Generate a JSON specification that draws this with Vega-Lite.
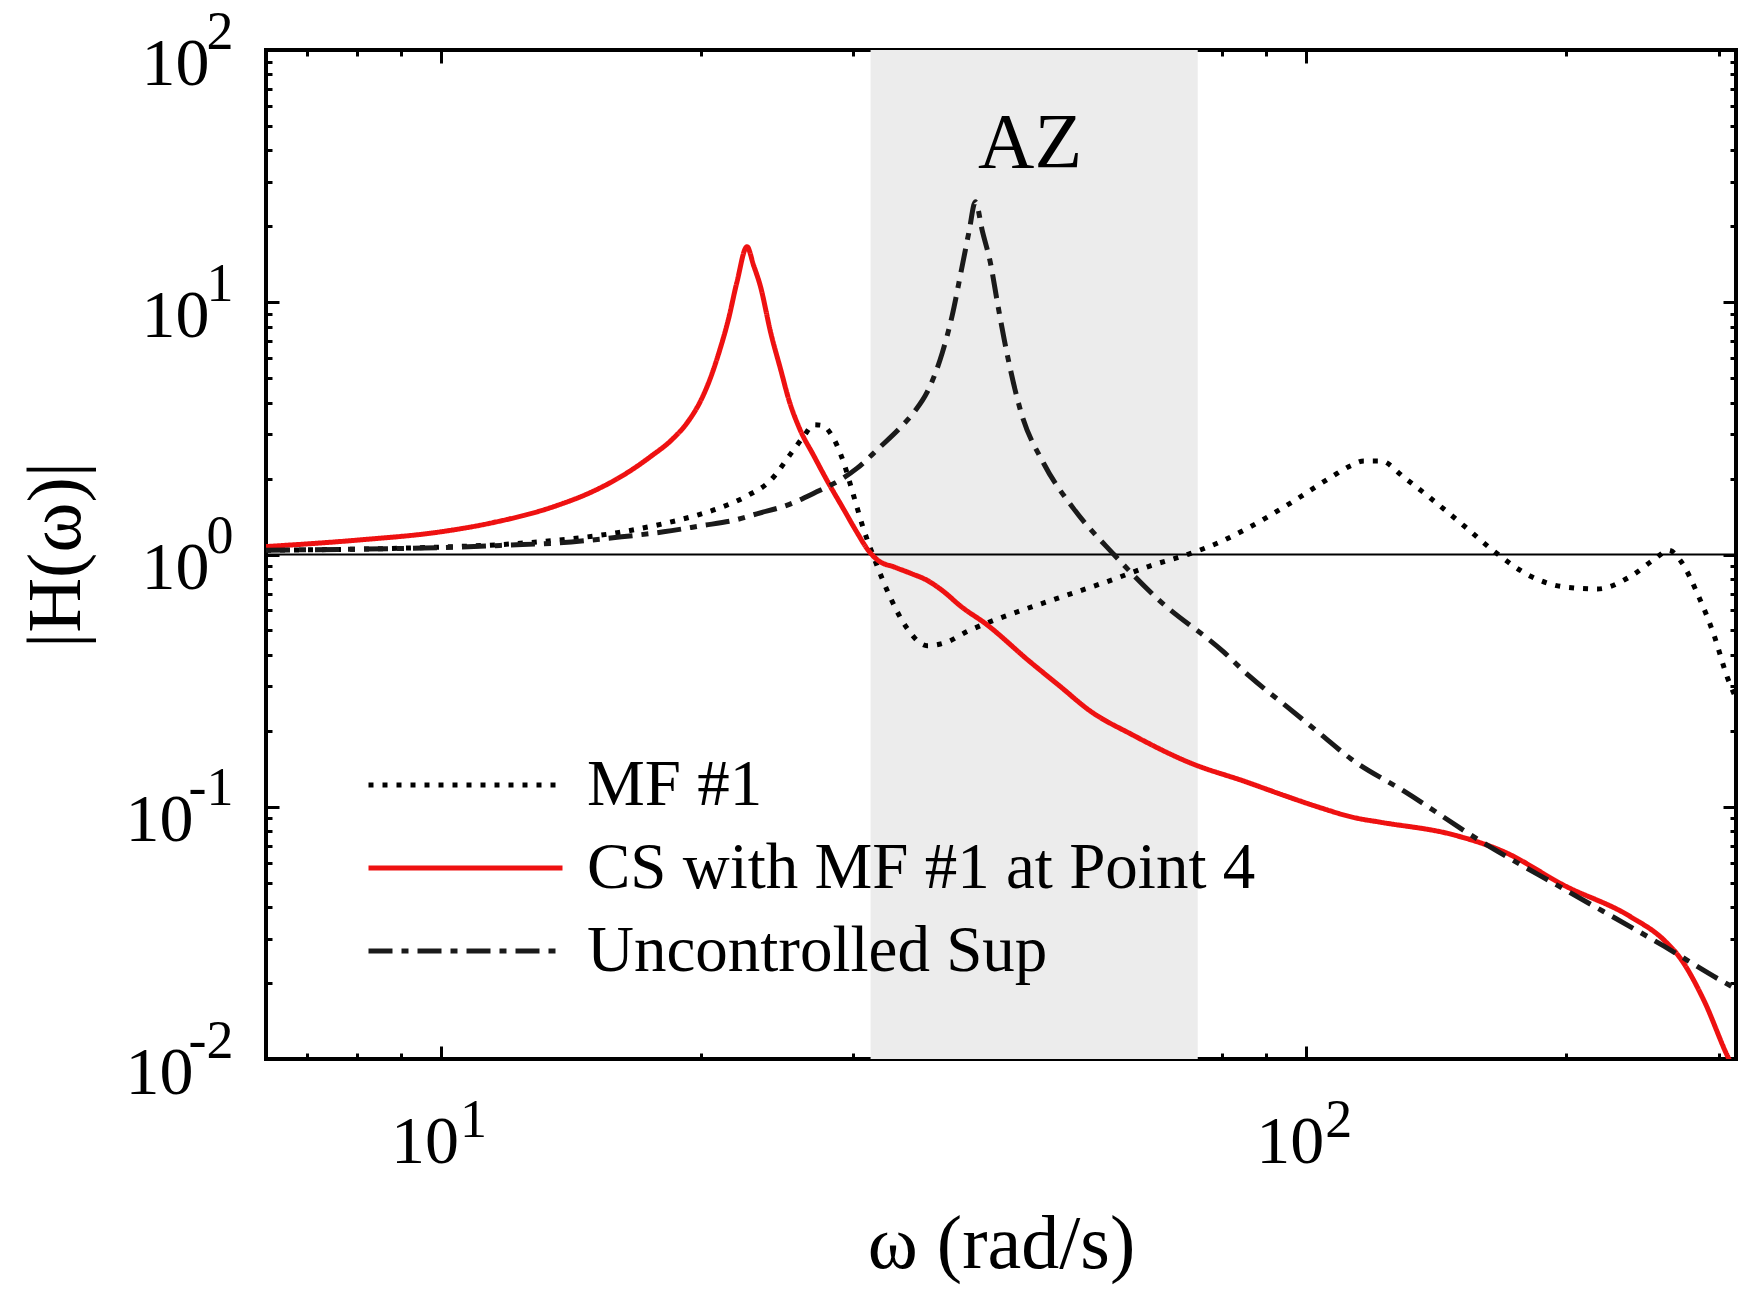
{
  "$schema": "https://vega.github.io/schema/vega-lite/v6.json",
  "width": 1470,
  "height": 1009,
  "autosize": {"type": "none"},
  "padding": {"left": 266, "top": 50, "right": 3, "bottom": 237},
  "background": "#ffffff",
  "config": {
    "view": {"stroke": "#000000", "strokeWidth": 4},
    "font": "Liberation Serif",
    "axis": {
      "domain": false,
      "grid": false,
      "tickColor": "#000000",
      "tickWidth": 3,
      "labelColor": "#000000",
      "titleColor": "#000000",
      "labelFont": "Liberation Serif",
      "titleFont": "Liberation Serif",
      "labelFontSize": 68,
      "titleFontSize": 76,
      "titleFontWeight": "normal",
      "labelFlush": false,
      "labelOverlap": false,
      "labelBound": false
    }
  },
  "datasets": {
    "curves": [
      {"w": 6.2832, "H": 1.04, "s": "MF #1"},
      {"w": 8, "H": 1.05, "s": "MF #1"},
      {"w": 10, "H": 1.07, "s": "MF #1"},
      {"w": 12, "H": 1.1, "s": "MF #1"},
      {"w": 14, "H": 1.15, "s": "MF #1"},
      {"w": 16, "H": 1.22, "s": "MF #1"},
      {"w": 18, "H": 1.32, "s": "MF #1"},
      {"w": 19.9, "H": 1.44, "s": "MF #1"},
      {"w": 20.9, "H": 1.52, "s": "MF #1"},
      {"w": 22.7, "H": 1.72, "s": "MF #1"},
      {"w": 24, "H": 1.95, "s": "MF #1"},
      {"w": 25.5, "H": 2.56, "s": "MF #1"},
      {"w": 26.3, "H": 2.95, "s": "MF #1"},
      {"w": 27.0, "H": 3.27, "s": "MF #1"},
      {"w": 27.6, "H": 3.25, "s": "MF #1"},
      {"w": 28.3, "H": 2.98, "s": "MF #1"},
      {"w": 29.2, "H": 2.34, "s": "MF #1"},
      {"w": 30.0, "H": 1.72, "s": "MF #1"},
      {"w": 30.8, "H": 1.27, "s": "MF #1"},
      {"w": 31.8, "H": 0.94, "s": "MF #1"},
      {"w": 33.0, "H": 0.69, "s": "MF #1"},
      {"w": 34.6, "H": 0.51, "s": "MF #1"},
      {"w": 36.5, "H": 0.435, "s": "MF #1"},
      {"w": 38.5, "H": 0.45, "s": "MF #1"},
      {"w": 40.6, "H": 0.495, "s": "MF #1"},
      {"w": 42.5, "H": 0.53, "s": "MF #1"},
      {"w": 46.9, "H": 0.6, "s": "MF #1"},
      {"w": 51.6, "H": 0.67, "s": "MF #1"},
      {"w": 59.5, "H": 0.79, "s": "MF #1"},
      {"w": 66, "H": 0.9, "s": "MF #1"},
      {"w": 73.6, "H": 1.01, "s": "MF #1"},
      {"w": 80, "H": 1.13, "s": "MF #1"},
      {"w": 85.6, "H": 1.27, "s": "MF #1"},
      {"w": 96.0, "H": 1.6, "s": "MF #1"},
      {"w": 106.8, "H": 2.02, "s": "MF #1"},
      {"w": 112.7, "H": 2.25, "s": "MF #1"},
      {"w": 116.7, "H": 2.35, "s": "MF #1"},
      {"w": 122, "H": 2.35, "s": "MF #1"},
      {"w": 129.9, "H": 2.02, "s": "MF #1"},
      {"w": 139.4, "H": 1.67, "s": "MF #1"},
      {"w": 152.3, "H": 1.3, "s": "MF #1"},
      {"w": 165, "H": 1.03, "s": "MF #1"},
      {"w": 181.9, "H": 0.82, "s": "MF #1"},
      {"w": 198.8, "H": 0.744, "s": "MF #1"},
      {"w": 217.3, "H": 0.73, "s": "MF #1"},
      {"w": 237.4, "H": 0.82, "s": "MF #1"},
      {"w": 252.6, "H": 0.955, "s": "MF #1"},
      {"w": 262.8, "H": 1.04, "s": "MF #1"},
      {"w": 271.3, "H": 0.94, "s": "MF #1"},
      {"w": 283.5, "H": 0.70, "s": "MF #1"},
      {"w": 296.3, "H": 0.479, "s": "MF #1"},
      {"w": 307, "H": 0.326, "s": "MF #1"},
      {"w": 314, "H": 0.27, "s": "MF #1"},

      {"w": 6.2832, "H": 1.075, "s": "CS with MF #1 at Point 4"},
      {"w": 8, "H": 1.14, "s": "CS with MF #1 at Point 4"},
      {"w": 10, "H": 1.23, "s": "CS with MF #1 at Point 4"},
      {"w": 11.4, "H": 1.33, "s": "CS with MF #1 at Point 4"},
      {"w": 13.6, "H": 1.56, "s": "CS with MF #1 at Point 4"},
      {"w": 15, "H": 1.78, "s": "CS with MF #1 at Point 4"},
      {"w": 16.4, "H": 2.1, "s": "CS with MF #1 at Point 4"},
      {"w": 17.5, "H": 2.45, "s": "CS with MF #1 at Point 4"},
      {"w": 18.5, "H": 2.85, "s": "CS with MF #1 at Point 4"},
      {"w": 19.3, "H": 3.35, "s": "CS with MF #1 at Point 4"},
      {"w": 20, "H": 4.1, "s": "CS with MF #1 at Point 4"},
      {"w": 20.5, "H": 5.0, "s": "CS with MF #1 at Point 4"},
      {"w": 21, "H": 6.4, "s": "CS with MF #1 at Point 4"},
      {"w": 21.5, "H": 8.5, "s": "CS with MF #1 at Point 4"},
      {"w": 22.0, "H": 12, "s": "CS with MF #1 at Point 4"},
      {"w": 22.6, "H": 16.6, "s": "CS with MF #1 at Point 4"},
      {"w": 23.0, "H": 14.0, "s": "CS with MF #1 at Point 4"},
      {"w": 23.4, "H": 11.7, "s": "CS with MF #1 at Point 4"},
      {"w": 24.1, "H": 7.45, "s": "CS with MF #1 at Point 4"},
      {"w": 24.7, "H": 5.46, "s": "CS with MF #1 at Point 4"},
      {"w": 25.3, "H": 4.04, "s": "CS with MF #1 at Point 4"},
      {"w": 26.0, "H": 3.15, "s": "CS with MF #1 at Point 4"},
      {"w": 27.0, "H": 2.46, "s": "CS with MF #1 at Point 4"},
      {"w": 28.0, "H": 1.95, "s": "CS with MF #1 at Point 4"},
      {"w": 29.2, "H": 1.52, "s": "CS with MF #1 at Point 4"},
      {"w": 30.3, "H": 1.22, "s": "CS with MF #1 at Point 4"},
      {"w": 31.2, "H": 1.04, "s": "CS with MF #1 at Point 4"},
      {"w": 32.0, "H": 0.95, "s": "CS with MF #1 at Point 4"},
      {"w": 33.5, "H": 0.89, "s": "CS with MF #1 at Point 4"},
      {"w": 35, "H": 0.84, "s": "CS with MF #1 at Point 4"},
      {"w": 36.5, "H": 0.79, "s": "CS with MF #1 at Point 4"},
      {"w": 38, "H": 0.72, "s": "CS with MF #1 at Point 4"},
      {"w": 40, "H": 0.62, "s": "CS with MF #1 at Point 4"},
      {"w": 42.7, "H": 0.53, "s": "CS with MF #1 at Point 4"},
      {"w": 47.8, "H": 0.38, "s": "CS with MF #1 at Point 4"},
      {"w": 52, "H": 0.3, "s": "CS with MF #1 at Point 4"},
      {"w": 56.3, "H": 0.24, "s": "CS with MF #1 at Point 4"},
      {"w": 63, "H": 0.193, "s": "CS with MF #1 at Point 4"},
      {"w": 73.6, "H": 0.149, "s": "CS with MF #1 at Point 4"},
      {"w": 85, "H": 0.126, "s": "CS with MF #1 at Point 4"},
      {"w": 95, "H": 0.11, "s": "CS with MF #1 at Point 4"},
      {"w": 102.2, "H": 0.101, "s": "CS with MF #1 at Point 4"},
      {"w": 114.7, "H": 0.09, "s": "CS with MF #1 at Point 4"},
      {"w": 122, "H": 0.0868, "s": "CS with MF #1 at Point 4"},
      {"w": 148.3, "H": 0.0773, "s": "CS with MF #1 at Point 4"},
      {"w": 169.4, "H": 0.0663, "s": "CS with MF #1 at Point 4"},
      {"w": 198.8, "H": 0.0488, "s": "CS with MF #1 at Point 4"},
      {"w": 237.4, "H": 0.0366, "s": "CS with MF #1 at Point 4"},
      {"w": 259.4, "H": 0.0296, "s": "CS with MF #1 at Point 4"},
      {"w": 271.3, "H": 0.0249, "s": "CS with MF #1 at Point 4"},
      {"w": 288.6, "H": 0.017, "s": "CS with MF #1 at Point 4"},
      {"w": 307, "H": 0.0103, "s": "CS with MF #1 at Point 4"},
      {"w": 314, "H": 0.0088, "s": "CS with MF #1 at Point 4"},

      {"w": 6.2832, "H": 1.04, "s": "Uncontrolled Sup"},
      {"w": 8, "H": 1.05, "s": "Uncontrolled Sup"},
      {"w": 9.55, "H": 1.06, "s": "Uncontrolled Sup"},
      {"w": 12, "H": 1.09, "s": "Uncontrolled Sup"},
      {"w": 13.6, "H": 1.11, "s": "Uncontrolled Sup"},
      {"w": 16, "H": 1.17, "s": "Uncontrolled Sup"},
      {"w": 18.1, "H": 1.23, "s": "Uncontrolled Sup"},
      {"w": 20, "H": 1.3, "s": "Uncontrolled Sup"},
      {"w": 21.9, "H": 1.37, "s": "Uncontrolled Sup"},
      {"w": 23.2, "H": 1.45, "s": "Uncontrolled Sup"},
      {"w": 25.3, "H": 1.58, "s": "Uncontrolled Sup"},
      {"w": 27, "H": 1.75, "s": "Uncontrolled Sup"},
      {"w": 29.2, "H": 2.01, "s": "Uncontrolled Sup"},
      {"w": 30.3, "H": 2.2, "s": "Uncontrolled Sup"},
      {"w": 32.1, "H": 2.64, "s": "Uncontrolled Sup"},
      {"w": 34, "H": 3.19, "s": "Uncontrolled Sup"},
      {"w": 35.3, "H": 3.69, "s": "Uncontrolled Sup"},
      {"w": 36.5, "H": 4.4, "s": "Uncontrolled Sup"},
      {"w": 38.0, "H": 6.3, "s": "Uncontrolled Sup"},
      {"w": 39.0, "H": 8.8, "s": "Uncontrolled Sup"},
      {"w": 40.0, "H": 13.5, "s": "Uncontrolled Sup"},
      {"w": 40.8, "H": 19, "s": "Uncontrolled Sup"},
      {"w": 41.5, "H": 25, "s": "Uncontrolled Sup"},
      {"w": 42.3, "H": 19, "s": "Uncontrolled Sup"},
      {"w": 43.2, "H": 14.3, "s": "Uncontrolled Sup"},
      {"w": 44.0, "H": 10, "s": "Uncontrolled Sup"},
      {"w": 44.8, "H": 7.15, "s": "Uncontrolled Sup"},
      {"w": 46.8, "H": 3.72, "s": "Uncontrolled Sup"},
      {"w": 49.8, "H": 2.29, "s": "Uncontrolled Sup"},
      {"w": 53.9, "H": 1.52, "s": "Uncontrolled Sup"},
      {"w": 60, "H": 1.0, "s": "Uncontrolled Sup"},
      {"w": 67.3, "H": 0.67, "s": "Uncontrolled Sup"},
      {"w": 80.4, "H": 0.41, "s": "Uncontrolled Sup"},
      {"w": 86, "H": 0.33, "s": "Uncontrolled Sup"},
      {"w": 95, "H": 0.25, "s": "Uncontrolled Sup"},
      {"w": 104, "H": 0.194, "s": "Uncontrolled Sup"},
      {"w": 112.7, "H": 0.155, "s": "Uncontrolled Sup"},
      {"w": 130, "H": 0.115, "s": "Uncontrolled Sup"},
      {"w": 159.3, "H": 0.073, "s": "Uncontrolled Sup"},
      {"w": 200, "H": 0.0466, "s": "Uncontrolled Sup"},
      {"w": 259.4, "H": 0.028, "s": "Uncontrolled Sup"},
      {"w": 304, "H": 0.0202, "s": "Uncontrolled Sup"},
      {"w": 314, "H": 0.019, "s": "Uncontrolled Sup"}
    ]
  },
  "layer": [
    {
      "data": {"values": [{"lo": 31.4, "hi": 75}]},
      "mark": {"type": "rect", "color": "#ececec"},
      "encoding": {
        "x": {
          "field": "lo", "type": "quantitative",
          "scale": {"type": "log", "domain": [6.2832, 314.16], "nice": false},
          "axis": {
            "orient": "bottom",
            "values": [7, 8, 9, 10, 20, 30, 40, 50, 60, 70, 80, 90, 100, 200, 300],
            "tickSize": {"condition": {"test": "datum.value == 10 || datum.value == 100", "value": -13}, "value": -6},
            "labelPadding": 62,
            "labelOffset": -16,
            "labelExpr": "datum.value == 10 || datum.value == 100 ? '10' : ''",
            "title": "ω (rad/s)",
            "titlePadding": 24
          }
        },
        "x2": {"field": "hi"},
        "y": {
          "datum": 100, "type": "quantitative",
          "scale": {"type": "log", "domain": [0.01, 100], "nice": false},
          "axis": {
            "orient": "left",
            "values": [0.01, 0.02, 0.03, 0.04, 0.05, 0.06, 0.07, 0.08, 0.09, 0.1, 0.2, 0.3, 0.4, 0.5, 0.6, 0.7, 0.8, 0.9, 1, 2, 3, 4, 5, 6, 7, 8, 9, 10, 20, 30, 40, 50, 60, 70, 80, 90, 100],
            "tickSize": {"condition": {"test": "datum.value == 0.01 || datum.value == 0.1 || datum.value == 1 || datum.value == 10 || datum.value == 100", "value": -13}, "value": -6},
            "labelPadding": {"condition": {"test": "datum.value < 0.5", "value": 86}, "value": 70},
            "labelOffset": 14,
            "labelExpr": "datum.value == 100 || datum.value == 10 || datum.value == 1 || datum.value == 0.1 || datum.value == 0.01 ? '10' : ''",
            "title": "|H(ω)|",
            "titlePadding": 30
          }
        },
        "y2": {"datum": 0.01}
      }
    },
    {
      "data": {"values": [{"ref": 1}]},
      "mark": {"type": "rule", "color": "#000000", "strokeWidth": 2},
      "encoding": {
        "y": {"field": "ref", "type": "quantitative", "axis": null}
      }
    },
    {
      "data": {"name": "curves"},
      "mark": {"type": "line", "strokeWidth": 5, "clip": true, "interpolate": "monotone"},
      "encoding": {
        "x": {
          "field": "w", "type": "quantitative",
          "axis": {
            "orient": "bottom",
            "values": [10, 100],
            "ticks": true,
            "tickSize": -6,
            "tickOpacity": 0,
            "labelFontSize": 54,
            "labelAlign": "left",
            "labelPadding": 40,
            "labelOffset": 19,
            "labelExpr": "datum.value == 10 ? '1' : datum.value == 100 ? '2' : ''",
            "title": null
          }
        },
        "y": {
          "field": "H", "type": "quantitative",
          "axis": {
            "orient": "left",
            "values": [0.01, 0.1, 1, 10, 100],
            "ticks": true,
            "tickSize": -6,
            "tickOpacity": 0,
            "labelFontSize": 54,
            "labelAlign": "right",
            "labelPadding": 39,
            "labelOffset": -18,
            "labelExpr": "datum.value == 100 ? '2' : datum.value == 10 ? '1' : datum.value == 1 ? '0' : datum.value == 0.1 ? '-1' : datum.value == 0.01 ? '-2' : ''",
            "title": null
          }
        },
        "color": {
          "field": "s", "type": "nominal",
          "scale": {"domain": ["MF #1", "CS with MF #1 at Point 4", "Uncontrolled Sup"], "range": ["#000000", "#ee1111", "#1a1a1a"]},
          "legend": {
            "title": null,
            "orient": "none",
            "legendX": 100,
            "legendY": 705,
            "padding": 0,
            "symbolType": "stroke",
            "symbolSize": 37636,
            "symbolStrokeWidth": 5,
            "clipHeight": 60,
            "rowPadding": 18,
            "labelFontSize": 65,
            "labelFont": "Liberation Serif",
            "labelColor": "#000000",
            "labelOffset": 22,
            "labelLimit": 1000
          }
        },
        "strokeDash": {
          "field": "s", "type": "nominal",
          "scale": {"domain": ["MF #1", "CS with MF #1 at Point 4", "Uncontrolled Sup"], "range": [[5, 9], [1, 0], [24, 9, 7, 9]]}
        }
      }
    },
    {
      "data": {"values": [{"t": "AZ"}]},
      "mark": {"type": "text", "fontSize": 78, "font": "Liberation Serif", "baseline": "alphabetic", "align": "center", "color": "#000000"},
      "encoding": {
        "text": {"field": "t"},
        "x": {
          "datum": 48, "type": "quantitative",
          "axis": {
            "orient": "top",
            "values": [7, 8, 9, 10, 20, 30, 40, 50, 60, 70, 80, 90, 100, 200, 300],
            "tickSize": {"condition": {"test": "datum.value == 10 || datum.value == 100", "value": -13}, "value": -6},
            "labels": false,
            "title": null
          }
        },
        "y": {
          "datum": 34.5, "type": "quantitative",
          "axis": {
            "orient": "right",
            "values": [0.01, 0.02, 0.03, 0.04, 0.05, 0.06, 0.07, 0.08, 0.09, 0.1, 0.2, 0.3, 0.4, 0.5, 0.6, 0.7, 0.8, 0.9, 1, 2, 3, 4, 5, 6, 7, 8, 9, 10, 20, 30, 40, 50, 60, 70, 80, 90, 100],
            "tickSize": {"condition": {"test": "datum.value == 0.01 || datum.value == 0.1 || datum.value == 1 || datum.value == 10 || datum.value == 100", "value": -13}, "value": -6},
            "labels": false,
            "title": null
          }
        }
      }
    }
  ],
  "resolve": {"axis": {"x": "independent", "y": "independent"}}
}
